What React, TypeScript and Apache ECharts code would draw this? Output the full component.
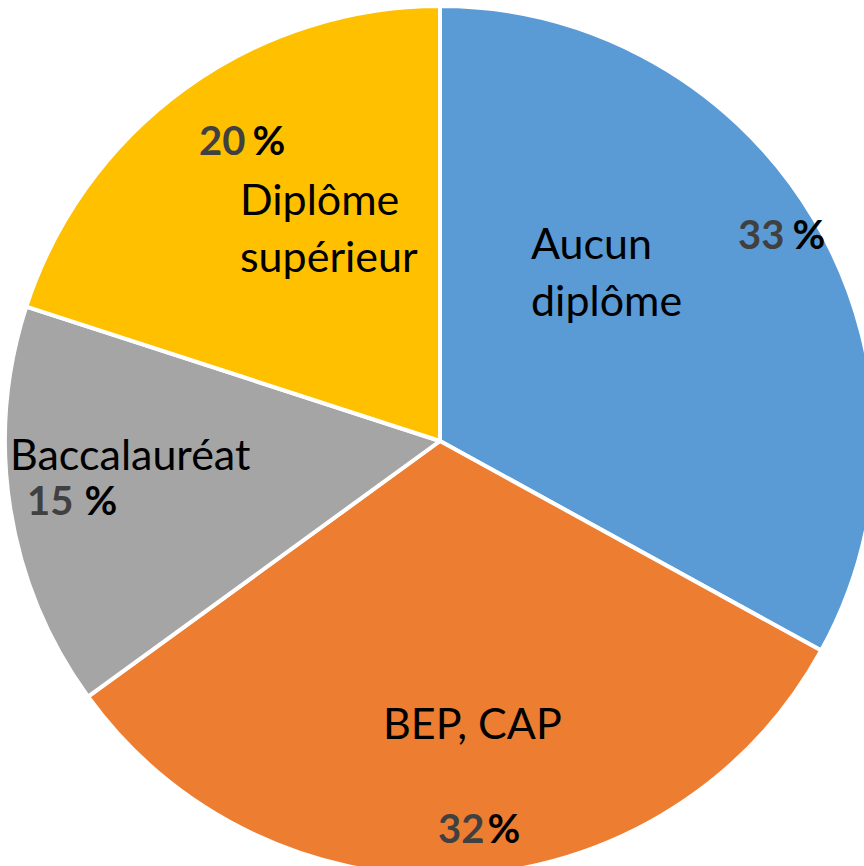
import React, { useEffect, useRef } from "react";
import * as echarts from "echarts";

const categories = ["Aucun diplôme", "BEP, CAP", "Baccalauréat", "Diplôme supérieur"];
const nameLabels = ["Aucun\ndiplôme", "BEP, CAP", "Baccalauréat", "Diplôme\nsupérieur"];
const values = [33, 32, 15, 20];
const colors = ["#5B9BD5", "#ED7D31", "#A5A5A5", "#FFC000"];

// label placement (pixels, top-left of the label box) and gap before "%"
const namePos = [
  { x: 531, y: 214 },
  { x: 383, y: 694 },
  { x: 10, y: 425 },
  { x: 240, y: 170 },
];
const pctPos = [
  { x: 738, y: 214 },
  { x: 438, y: 808 },
  { x: 27, y: 480 },
  { x: 199, y: 120 },
];
const pctGaps = [8, 3, 11, 7];

const FONT = "Lato, 'Noto Sans', sans-serif";

export default function App() {
  const ref = useRef<HTMLDivElement>(null);
  useEffect(() => {
    if (!ref.current) return;
    const chart = echarts.init(ref.current, undefined, { renderer: "svg" });
    const data = categories.map((name, i) => ({
      name,
      value: values[i],
      itemStyle: { color: colors[i] },
    }));
    const common = {
      type: "pie",
      center: [440, 441],
      radius: 435,
      startAngle: 90,
      clockwise: true,
      avoidLabelOverlap: false,
      labelLine: { show: false },
      emphasis: { disabled: true },
    };
    const rich: any = {
      n: { fontFamily: FONT, fontSize: 40, fontWeight: "bold", color: "#404040" },
      p: { fontFamily: FONT, fontSize: 40, fontWeight: "bold", color: "#000000" },
    };
    pctGaps.forEach((g, i) => {
      rich["g" + i] = { width: g, fontSize: 40 };
    });
    chart.setOption({
      animation: false,
      backgroundColor: "#ffffff",
      series: [
        {
          ...common,
          data,
          itemStyle: { borderColor: "#ffffff", borderWidth: 4 },
          label: {
            show: true,
            position: "inside",
            formatter: (p: any) => nameLabels[p.dataIndex],
            color: "#000000",
            fontFamily: FONT,
            fontSize: 43,
            lineHeight: 57,
            align: "left",
          },
          labelLayout: (p: any) => ({
            x: namePos[p.dataIndex].x,
            y: namePos[p.dataIndex].y,
            align: "left",
            verticalAlign: "top",
          }),
        },
        {
          ...common,
          silent: true,
          data: categories.map((name, i) => ({ name, value: values[i] })),
          itemStyle: { color: "rgba(0,0,0,0)", borderWidth: 0 },
          label: {
            show: true,
            position: "inside",
            formatter: (p: any) =>
              `{n|${values[p.dataIndex]}}{g${p.dataIndex}|}{p|%}`,
            rich,
          },
          labelLayout: (p: any) => ({
            x: pctPos[p.dataIndex].x,
            y: pctPos[p.dataIndex].y,
            align: "left",
            verticalAlign: "top",
          }),
        },
      ],
    });
    return () => chart.dispose();
  }, []);
  return (
    <div
      ref={ref}
      style={{ position: "absolute", left: 0, top: 0, width: 864, height: 866 }}
    />
  );
}
